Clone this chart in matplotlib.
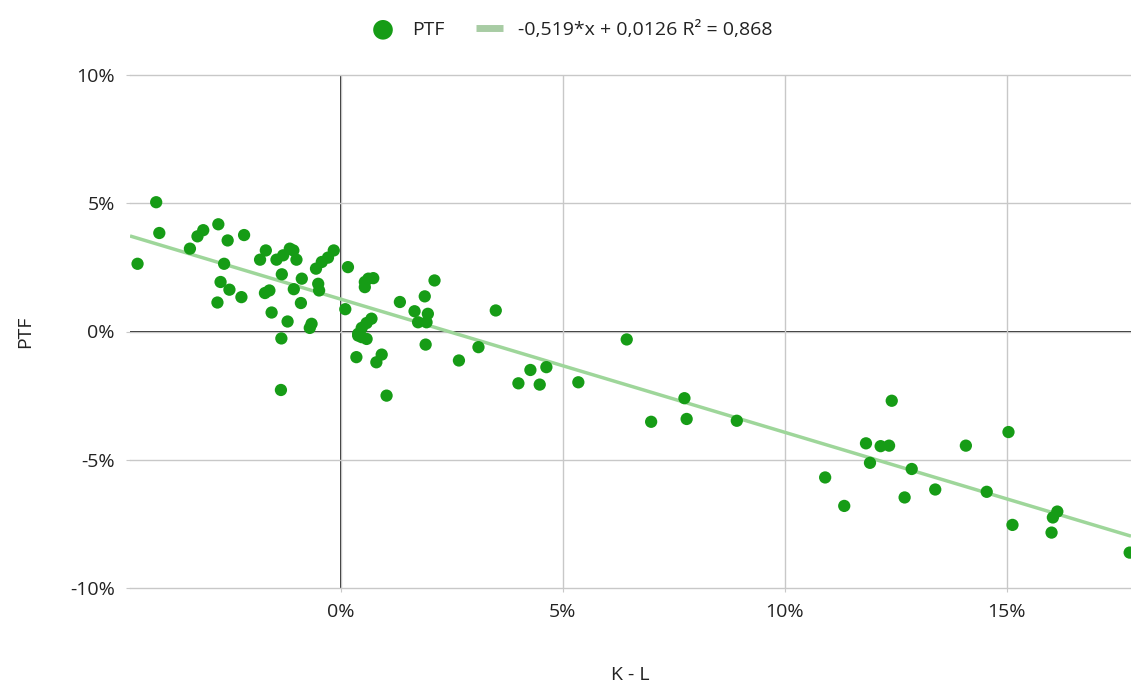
import numpy as np
import matplotlib.pyplot as plt
from matplotlib.ticker import FuncFormatter

plt.rcParams['font.family'] = ['Open Sans', 'DejaVu Sans']

# K - L (%) and PTF (%)
kl = [-4.16, -4.09, -4.58, -3.40, -3.23, -3.10, -2.76, -2.55, -2.18, -2.63,
      -2.71, -2.51, -2.78, -2.24, -1.69, -1.82, -1.45, -1.30, -1.15, -1.07,
      -1.00, -1.33, -0.88, -1.06, -1.71, -1.61, -1.56, -1.20, -0.90, -1.34,
      -1.35, -0.66, -0.70, -0.56, -0.43, -0.29, -0.16, -0.51, -0.49, 0.16,
      0.10, 0.39, 0.35, 0.54, 0.62, 0.73, 0.54, 2.11, 1.33, 1.89,
      1.66, 1.96, 1.74, 1.93, 3.49, 0.69, 0.58, 0.47, 0.39, 0.58,
      0.47, 0.92, 0.80, 1.03, 1.91, 3.10, 2.66, 6.44, 4.27, 4.63,
      4.00, 4.48, 5.35, 7.74, 7.79, 6.99, 8.92, 12.41, 15.04, 11.83,
      12.16, 12.35, 14.08, 11.92, 12.86, 10.91, 11.34, 12.70, 13.39, 14.55,
      15.13, 16.14, 16.04, 16.01, 17.77]
ptf = [5.04, 3.84, 2.64, 3.23, 3.71, 3.95, 4.18, 3.55, 3.76, 2.64,
       1.93, 1.63, 1.13, 1.34, 3.16, 2.80, 2.80, 2.97, 3.23, 3.16,
       2.80, 2.23, 2.06, 1.65, 1.50, 1.60, 0.74, 0.39, 1.11, -0.27,
       -2.28, 0.30, 0.14, 2.45, 2.71, 2.88, 3.16, 1.86, 1.60, 2.51,
       0.87, -0.09, -1.00, 1.93, 2.06, 2.08, 1.73, 1.99, 1.15, 1.37,
       0.79, 0.69, 0.36, 0.36, 0.82, 0.50, 0.33, 0.14, -0.16, -0.29,
       -0.22, -0.90, -1.20, -2.50, -0.51, -0.61, -1.13, -0.31, -1.50, -1.39,
       -2.02, -2.07, -1.98, -2.60, -3.41, -3.52, -3.48, -2.70, -3.92, -4.36,
       -4.47, -4.45, -4.45, -5.12, -5.36, -5.69, -6.80, -6.47, -6.16, -6.25,
       -7.54, -7.02, -7.25, -7.84, -8.62]

slope, intercept = -0.519, 0.0126
trend_label = '-0,519*x + 0,0126 R² = 0,868'

xticks = [0, 5, 10, 15]
yticks = [-10, -5, 0, 5, 10]

fig = plt.figure(figsize=(11.31, 6.82), dpi=100)
ax = fig.add_axes([130 / 1131, 1 - 588 / 682, 1 - 130 / 1131, (588 - 75) / 682])

xmin, xmax = -4.75, 17.8
ax.set_xlim(xmin, xmax)
ax.set_ylim(-10, 10)

for s in ax.spines.values():
    s.set_visible(False)

ax.set_xticks(xticks)
ax.set_yticks(yticks)
ax.grid(True, color='#c8c8c8', lw=1)
for gl in ax.get_ygridlines():
    gl.set_clip_on(False)
ax.axhline(0, color='#222222', lw=1.4, zorder=1)
ax.axvline(0, color='#222222', lw=1.4, zorder=1)

pct = FuncFormatter(lambda v, p: f'{v:.0f}%')
ax.xaxis.set_major_formatter(pct)
ax.yaxis.set_major_formatter(pct)
ax.tick_params(axis='both', length=3, color='#c8c8c8', labelsize=14,
               labelcolor='#222222', pad=8)

xs = np.array([xmin, xmax])
ax.plot(xs, slope * xs + intercept * 100, color='#9ed69a', lw=2.5,
        zorder=2, label=trend_label, solid_capstyle='butt')
ax.scatter(kl, ptf, s=78, color='#169c16', zorder=3, label='PTF',
           edgecolors='none', clip_on=True)

ax.set_xlabel('K - L', fontsize=14, color='#222222', labelpad=32)
ax.set_ylabel('PTF', fontsize=14, color='#222222', labelpad=26)

h, l = ax.get_legend_handles_labels()
leg = fig.legend(h[::-1], l[::-1], loc='upper center', bbox_to_anchor=(0.505, 0.995),
                 ncol=2, frameon=False, fontsize=14, handlelength=1.4,
                 markerscale=1.6, columnspacing=1.6, labelcolor='#222222')
leg.legend_handles[1].set_linewidth(5)
leg.legend_handles[1].set_color('#a8cca4')

fig.savefig('out.png', dpi=100)
